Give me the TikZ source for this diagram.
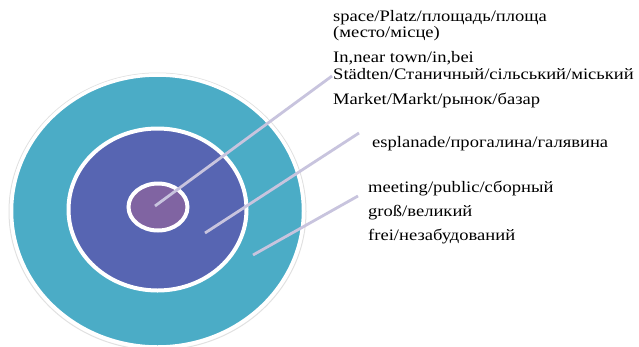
\documentclass[tikz,border=0pt]{standalone}
\usepackage{fontspec}
\setmainfont{Liberation Serif}[FakeStretch=1.16]
\usetikzlibrary{shapes.geometric}
\definecolor{outerc}{RGB}{75,172,198}
\definecolor{midc}{RGB}{87,101,178}
\definecolor{innerc}{RGB}{128,100,162}
\definecolor{linec}{RGB}{200,196,222}
\definecolor{shadowc}{RGB}{225,225,225}
\tikzset{
  ring/.style={ellipse, inner sep=0pt, draw=white, line width=3.5pt},
  lbl/.style={anchor=base west, inner sep=0pt, align=left, font=\fontsize{16}{16.5}\selectfont},
  leader/.style={draw=linec, line width=2.8pt}
}
\begin{document}
\begin{tikzpicture}[x=1pt,y=-1pt]
\useasboundingbox[fill=white] (0,0) rectangle (639,346);
% outer shadow
\node[ellipse, inner sep=0pt, draw=shadowc, line width=1pt, minimum width=297pt, minimum height=277pt] (outshadow) at (157.5,211.5) {};
\node[ring, fill=outerc, minimum width=292pt, minimum height=272pt] (outer) at (157.5,211) {};
\node[ring, line width=4pt, fill=midc, minimum width=178pt, minimum height=162pt] (mid) at (157.5,209.5) {};
\node[ring, line width=4pt, fill=innerc, minimum width=59pt, minimum height=47pt] (inner) at (158,207) {};
% text (base anchor = baseline of last line)
\node[lbl] (t1) at (333,37.5) {space/Platz/площадь/площа\\(место/місце)};
\node[lbl] (t2) at (333,79) {In,near town/in,bei\\Städten/Станичный/сільський/міський};
\node[lbl] (t3) at (333,104) {Market/Markt/рынок/базар};
\node[lbl] (t4) at (372,147) {esplanade/прогалина/галявина};
\node[lbl] (t5) at (368,192) {meeting/public/сборный};
\node[lbl] (t6) at (368,216) {groß/великий};
\node[lbl] (t7) at (368,240) {frei/незабудований};
% leader ends
\coordinate (a1) at (155,206);
\coordinate (b1) at (332,76);
\coordinate (a2) at (205,233);
\coordinate (b2) at (359,133);
\coordinate (a3) at (253,255);
\coordinate (b3) at (358,196);
\draw[leader] (a1) -- (b1);
\draw[leader] (a2) -- (b2);
\draw[leader] (a3) -- (b3);
\end{tikzpicture}
\end{document}
